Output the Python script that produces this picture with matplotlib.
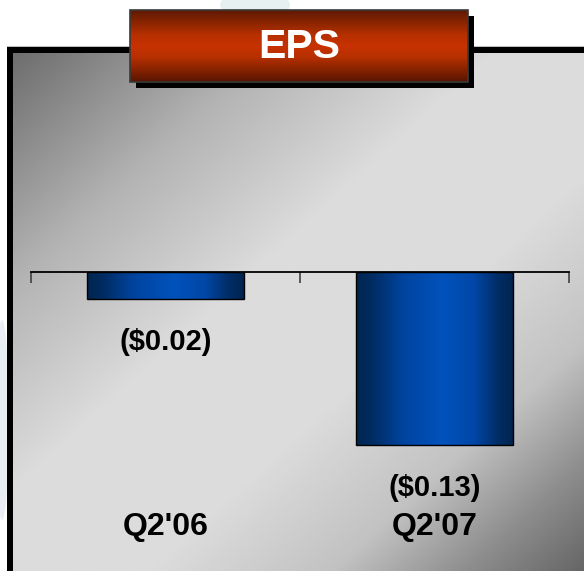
import numpy as np
import matplotlib
matplotlib.use("Agg")
import matplotlib.pyplot as plt
from matplotlib.colors import LinearSegmentedColormap
from matplotlib.patches import Rectangle, Ellipse
import matplotlib.transforms as mtransforms

# ---- data ----
categories = ["Q2'06", "Q2'07"]
eps_values = [-0.02, -0.13]
value_labels = ["($0.02)", "($0.13)"]
title = "EPS"

W, H = 584, 571
plt.rcParams['font.family'] = ['Liberation Sans', 'DejaVu Sans']

fig = plt.figure(figsize=(W / 100, H / 100), dpi=100)
fig.patch.set_facecolor('white')

# full-figure canvas in pixel coordinates for the decorative frame
bg = fig.add_axes([0, 0, 1, 1])
bg.set_xlim(0, W)
bg.set_ylim(H, 0)
bg.axis('off')

# faint watermark shapes behind the panel
bg.add_patch(Ellipse((255, 5), 70, 30, color='#e6f0f0', lw=0, zorder=0))
bg.add_patch(Ellipse((2, 420), 14, 200, color='#e8eef4', lw=0, zorder=0))

# panel with diagonal grey gradient
px0, py0 = 7, 47
bw = 6
gx = np.linspace(0, 1, 300)
gy = np.linspace(0, 1, 300)
GX, GY = np.meshgrid(gx, gy)
T = (GX + GY) / 2
tp = [0.0, 0.22, 0.42, 0.62, 0.78, 0.9, 1.0]
vp = [0.43, 0.70, 0.86, 0.86, 0.76, 0.55, 0.40]
G = np.interp(T, tp, vp)
bg.add_patch(Rectangle((px0 - 0.5, py0 - 1.5), W, H, facecolor='#c0c0c0', lw=0, zorder=1))
bg.add_patch(Rectangle((px0, py0), W, H, facecolor='black', lw=0, zorder=1.5))
bg.imshow(G, cmap='gray', vmin=0, vmax=1, extent=(px0 + bw, W, H, py0 + bw),
          aspect='auto', zorder=2, interpolation='bilinear')

# title box with shadow and vertical red gradient
tx0, tx1, ty0, ty1 = 130, 468, 10, 82
bg.add_patch(Rectangle((tx0 + 6, ty0 + 6), tx1 - tx0, ty1 - ty0, facecolor='black', lw=0, zorder=3))
red = LinearSegmentedColormap.from_list(
    'red', [(0, '#5e1a02'), (0.35, '#b83000'), (0.5, '#c83200'), (0.65, '#b83000'), (1, '#581500')])
bg.imshow(np.linspace(0, 1, 200).reshape(-1, 1), cmap=red, extent=(tx0, tx1, ty1, ty0),
          aspect='auto', zorder=4, interpolation='bilinear')
bg.add_patch(Rectangle((tx0, ty0), tx1 - tx0, ty1 - ty0, facecolor='none',
                       edgecolor='#3a3a3a', lw=1.2, zorder=5))
bg.text((tx0 + tx1) / 2, (ty0 + ty1) / 2 + 1, title, color='white', fontsize=29.5,
        fontweight='bold', ha='center', va='center', zorder=6)

# ---- chart axes ----
ax_left, ax_right, ax_top, ax_bot = 31, 569, 272, 571
px_per_unit = 173 / 0.13
ax = fig.add_axes([ax_left / W, 1 - ax_bot / H, (ax_right - ax_left) / W, (ax_bot - ax_top) / H])
ax.set_facecolor('none')
ax.set_xlim(-0.5, len(categories) - 0.5)
ax.set_ylim(-(ax_bot - ax_top) / px_per_unit, 0)
for s in ['left', 'right', 'bottom']:
    ax.spines[s].set_visible(False)
ax.spines['top'].set_linewidth(1.3)
ax.spines['top'].set_color('black')
ax.set_yticks([])
ax.xaxis.set_ticks_position('top')
ax.set_xticks(np.arange(-0.5, len(categories), 1.0))
ax.set_xticklabels([])
ax.tick_params(axis='x', direction='in', length=8, width=1.2, color='#404040')

blue = LinearSegmentedColormap.from_list(
    'blue', [(0, '#00254f'), (0.1, '#002c62'), (0.3, '#0044a0'), (0.55, '#0052bc'),
             (0.75, '#0047a6'), (0.9, '#002d66'), (1, '#00244f')])
bar_w = 0.587
xs = np.arange(len(categories))
bars = ax.bar(xs, eps_values, width=bar_w, facecolor='none', edgecolor='black', lw=1.0, zorder=3)
for x, v in zip(xs, eps_values):
    ax.imshow(np.linspace(0, 1, 200).reshape(1, -1), cmap=blue,
              extent=(x - bar_w / 2, x + bar_w / 2, v, 0), aspect='auto', zorder=2,
              interpolation='bilinear')
ax.set_xlim(-0.5, len(categories) - 0.5)
ax.set_ylim(-(ax_bot - ax_top) / px_per_unit, 0)

for x, v, lab in zip(xs, eps_values, value_labels):
    ax.annotate(lab, xy=(x, v), xytext=(0, -31), textcoords='offset points',
                ha='center', va='center', fontsize=21, fontweight='bold', color='black')

trans = mtransforms.blended_transform_factory(ax.transData, bg.transData)
for x, c in zip(xs, categories):
    bg.text(x, 527, c, transform=trans, ha='center', va='center',
            fontsize=23, fontweight='bold', color='black', zorder=10)

fig.savefig('out.png', dpi=100)
